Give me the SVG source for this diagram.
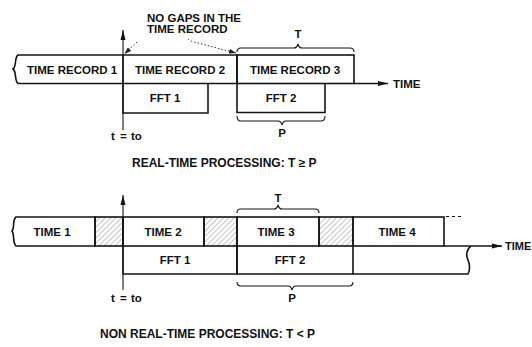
<svg xmlns="http://www.w3.org/2000/svg" width="532" height="347" viewBox="0 0 532 347">
<style>
.box{fill:none;stroke:#151515;stroke-width:1.6}
.gap{fill:url(#hatch);stroke:#151515;stroke-width:1.6}
.ln{fill:none;stroke:#151515;stroke-width:1.5}
.thin{fill:none;stroke:#151515;stroke-width:1.1}
.dot{fill:none;stroke:#333;stroke-width:1;stroke-dasharray:1.5 2}
.t{font-family:"Liberation Sans",Arial,sans-serif;font-weight:bold;font-size:11.5px;fill:#111}
.c{text-anchor:middle}
.cap{font-size:12px}
</style>
<defs>
<marker id="ah" viewBox="0 0 10 6" refX="10" refY="3" markerWidth="10" markerHeight="6" markerUnits="userSpaceOnUse" orient="auto">
<path d="M0,0.5 L10,3 L0,5.5 Z" fill="#111"/>
</marker>
<marker id="ahs" viewBox="0 0 7 5" refX="7" refY="2.5" markerWidth="7" markerHeight="5" markerUnits="userSpaceOnUse" orient="auto">
<path d="M0,0 L7,2.5 L0,5 Z" fill="#222"/>
</marker>
<pattern id="hatch" patternUnits="userSpaceOnUse" width="3.8" height="6" patternTransform="rotate(45)">
<line x1="0" y1="0" x2="0" y2="6" stroke="#555" stroke-width="0.7"/>
</pattern>
</defs>

<!-- ===== TOP: REAL-TIME ===== -->
<g id="connectors-top">
<line class="ln" x1="354" y1="83.5" x2="388" y2="83.5" marker-end="url(#ah)"/>
<line class="thin" x1="123" y1="130" x2="123" y2="30" marker-end="url(#ah)"/>
<path class="dot" d="M188,39 q3,3 10,4 L236,53" marker-end="url(#ahs)"/>
<path class="dot" d="M137,42 L124.5,54" marker-end="url(#ahs)"/>
</g>

<g id="time-record-1">
<path class="box" d="M123,55 H18 C14,58 17,66 13,69 C17,72 14,80 18,83.5 H123"/>
<text class="t" x="27" y="74">TIME RECORD 1</text>
</g>
<g id="time-record-2">
<path class="box" d="M123,55 H237 V83.5 H123 Z"/>
<text class="t c" x="180" y="74">TIME RECORD 2</text>
</g>
<g id="time-record-3">
<rect class="box" x="237" y="55" width="117" height="28.5"/>
<text class="t c" x="295" y="74">TIME RECORD 3</text>
</g>
<g id="fft-1-top">
<path class="box" d="M123,83.5 V113 H208 V83.5"/>
<text class="t c" x="165" y="102">FFT 1</text>
</g>
<g id="fft-2-top">
<path class="box" d="M237,83.5 V112.5 H325 V83.5"/>
<text class="t c" x="281" y="102">FFT 2</text>
</g>
<g id="brace-T-top">
<path class="thin" d="M237,52 q0,-4 4,-4 H294 q3,0 4,-4 q1,4 4,4 H350 q4,0 4,4"/>
<text class="t c" x="298" y="38">T</text>
</g>
<g id="brace-P-top">
<path class="thin" d="M237,116 q0,5 4,5 H278 q3,0 4,4 q1,-4 4,-4 H321 q4,0 4,-5"/>
<text class="t c" x="282" y="137">P</text>
</g>
<g id="labels-top">
<text class="t" x="147" y="21.5">NO GAPS IN THE</text>
<text class="t" x="147" y="33">TIME RECORD</text>
<text class="t" x="393" y="88">TIME</text>
<text class="t" y="140"><tspan x="111">t</tspan><tspan x="120">=</tspan><tspan x="131">to</tspan></text>
<text class="t cap" x="132" y="167">REAL-TIME PROCESSING: T ≥ P</text>
</g>

<!-- ===== BOTTOM: NON REAL-TIME ===== -->
<g id="connectors-bottom">
<line class="ln" x1="444" y1="246" x2="502" y2="246" marker-end="url(#ah)"/>
<line class="thin" x1="123" y1="290" x2="123" y2="195" marker-end="url(#ah)"/>
<line class="thin" x1="446" y1="216.5" x2="464" y2="216.5" stroke-dasharray="3 3"/>
</g>

<g id="time-1">
<path class="box" d="M95,217 H16 C12,220 15,228 12,231 C15,235 12,242 16,246 H95 Z"/>
<text class="t c" x="52" y="236">TIME 1</text>
</g>
<g id="gap-1">
<rect class="gap" x="95" y="217" width="28" height="29"/>
</g>
<g id="time-2">
<rect class="box" x="123" y="217" width="81" height="29"/>
<text class="t c" x="163" y="236">TIME 2</text>
</g>
<g id="gap-2">
<rect class="gap" x="204" y="217" width="33" height="29"/>
</g>
<g id="time-3">
<rect class="box" x="237" y="217" width="82" height="29"/>
<text class="t c" x="276" y="236">TIME 3</text>
</g>
<g id="gap-3">
<rect class="gap" x="319" y="217" width="34" height="29"/>
</g>
<g id="time-4">
<rect class="box" x="353" y="217" width="91" height="29"/>
<text class="t c" x="397" y="236">TIME 4</text>
</g>
<g id="fft-1-bottom">
<path class="box" d="M123,246 V274 H237 V246"/>
<text class="t c" x="175" y="264">FFT 1</text>
</g>
<g id="fft-2-bottom">
<path class="box" d="M237,246 V274 H353 V246"/>
<text class="t c" x="290" y="264">FFT 2</text>
</g>
<g id="fft-3-bottom">
<path class="box" d="M353,274 H468 C470,270 470,265 468,260 C466,256 466,250 471,246"/>
</g>
<g id="brace-T-bottom">
<path class="thin" d="M237,213 q0,-4 4,-4 H274 q3,0 4,-4 q1,4 4,4 H315 q4,0 4,4"/>
<text class="t c" x="278" y="202">T</text>
</g>
<g id="brace-P-bottom">
<path class="thin" d="M237,282 q0,4 4,4 H288 q3,0 4,4 q1,-4 4,-4 H349 q4,0 4,-4"/>
<text class="t c" x="292" y="302">P</text>
</g>
<g id="labels-bottom">
<text class="t" x="505" y="250" style="font-size:11px">TIME</text>
<text class="t" y="302"><tspan x="111">t</tspan><tspan x="120">=</tspan><tspan x="131">to</tspan></text>
<text class="t cap" x="100" y="338">NON REAL-TIME PROCESSING: T &lt; P</text>
</g>
</svg>
